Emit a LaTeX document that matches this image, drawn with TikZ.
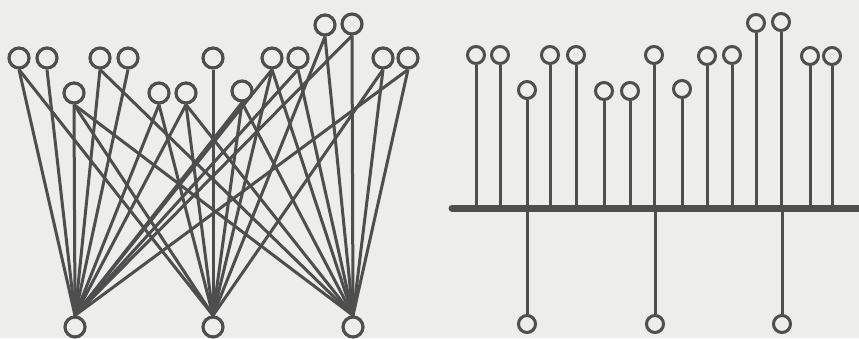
\documentclass[tikz,border=0pt]{standalone}
\begin{document}
\begin{tikzpicture}[x=1pt,y=-1pt,
  nodeL/.style={circle,draw=linegray,line width=3.2pt,minimum size=20pt,inner sep=0pt,fill=bggray},
  nodeR/.style={circle,draw=linegray,line width=3pt,minimum size=17pt,inner sep=0pt,fill=bggray},
  wire/.style={draw=linegray,line width=3pt},
  buswire/.style={draw=linegray,line width=7pt,line cap=round}]
\definecolor{linegray}{RGB}{78,78,78}
\definecolor{bggray}{RGB}{237,237,235}
\fill[bggray] (0,0) rectangle (859,338);
\useasboundingbox (0,0) rectangle (859,338);
% ---------- left: point-to-point wiring ----------
\foreach \n/\x/\y in {A/19/58,B/47/58,C/74/93,D/100/58,E/128/58,F/159/93,G/186/93,H/213/58,I/242/91,J/272/58,K/298/58,L/325/25,M/352/24,N/383/58,O/408/58}
  \node[nodeL] (\n) at (\x,\y) {};
\node[nodeL] (BL) at (75,327) {};
\node[nodeL] (BM) at (213,327) {};
\node[nodeL] (BR) at (353,327) {};
\foreach \t/\b in {A/BL,A/BM,B/BL,C/BL,C/BM,C/BR,D/BL,D/BR,E/BL,F/BL,F/BM,G/BL,G/BM,G/BR,H/BM,I/BL,I/BM,I/BR,J/BL,J/BM,J/BR,K/BL,K/BR,L/BM,L/BR,M/BL,M/BR,N/BM,N/BR,O/BL,O/BR}
  \draw[wire] (\t.south) -- (\b.north);
% ---------- right: bus ----------
\coordinate (busL) at (452,208);
\coordinate (busR) at (862,208);
\draw[buswire] (busL) -- (busR);
\foreach \n/\x/\y in {r1/476/55,r2/500/55,r3/527/90,r4/550/55,r5/576/55,r6/604/91,r7/630/91,r8/654/55,r9/682/89,r10/707/56,r11/732/55,r12/756/23,r13/781/22,r14/810/56,r15/832/56}{
  \node[nodeR] (\n) at (\x,\y) {};
  \draw[wire] (\n.south) -- (\n |- busL);
}
\foreach \n/\x in {s1/527,s2/655,s3/782}{
  \node[nodeR] (\n) at (\x,324) {};
  \draw[wire] (\n.north) -- (\n |- busL);
}
\end{tikzpicture}
\end{document}
